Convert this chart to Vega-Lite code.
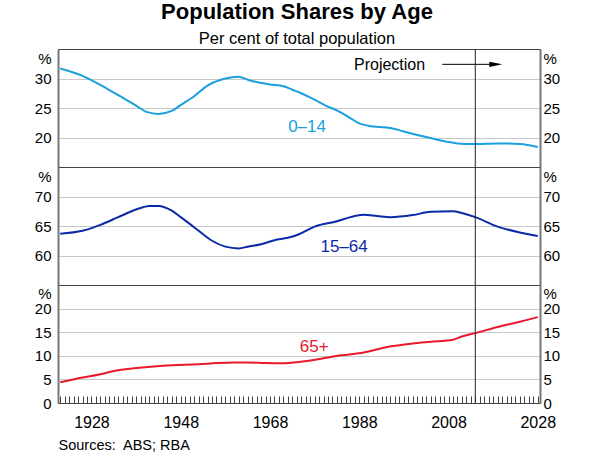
{
  "$schema": "https://vega.github.io/schema/vega-lite/v6.json",
  "padding": {"left": 33, "top": 0, "right": 5, "bottom": 5},
  "title": {
    "text": "Population Shares by Age",
    "subtitle": "Per cent of total population",
    "anchor": "middle",
    "font": "Liberation Sans",
    "fontSize": 22,
    "fontWeight": "bold",
    "color": "#000",
    "subtitleFont": "Liberation Sans",
    "subtitleFontSize": 16.5,
    "subtitleColor": "#000",
    "subtitlePadding": 7,
    "offset": 0
  },
  "config": {
    "view": {"stroke": "#444", "strokeWidth": 1},
    "axis": {"labelFont": "Liberation Sans", "labelColor": "#000", "titleFont": "Liberation Sans", "titleColor": "#000", "labelOverlap": false},
    "text": {"font": "Liberation Sans"}
  },
  "spacing": 0,
  "bounds": "flush",
  "datasets": {
    "pop": [
      {"series": "0–14", "year": 1921, "value": 31.7},
      {"series": "0–14", "year": 1926, "value": 30.45},
      {"series": "0–14", "year": 1930, "value": 28.9},
      {"series": "0–14", "year": 1933, "value": 27.6},
      {"series": "0–14", "year": 1936, "value": 26.3},
      {"series": "0–14", "year": 1938, "value": 25.4},
      {"series": "0–14", "year": 1940.5, "value": 24.3},
      {"series": "0–14", "year": 1943, "value": 24.0},
      {"series": "0–14", "year": 1946, "value": 24.5},
      {"series": "0–14", "year": 1948, "value": 25.5},
      {"series": "0–14", "year": 1951, "value": 27.0},
      {"series": "0–14", "year": 1954, "value": 28.8},
      {"series": "0–14", "year": 1958, "value": 30.0},
      {"series": "0–14", "year": 1961, "value": 30.3},
      {"series": "0–14", "year": 1963, "value": 29.8},
      {"series": "0–14", "year": 1965, "value": 29.4},
      {"series": "0–14", "year": 1968, "value": 29.0},
      {"series": "0–14", "year": 1971, "value": 28.7},
      {"series": "0–14", "year": 1973, "value": 28.1},
      {"series": "0–14", "year": 1975, "value": 27.5},
      {"series": "0–14", "year": 1977.5, "value": 26.6},
      {"series": "0–14", "year": 1980.5, "value": 25.4},
      {"series": "0–14", "year": 1983.5, "value": 24.4},
      {"series": "0–14", "year": 1986, "value": 23.3},
      {"series": "0–14", "year": 1988, "value": 22.4},
      {"series": "0–14", "year": 1990, "value": 22.0},
      {"series": "0–14", "year": 1995, "value": 21.6},
      {"series": "0–14", "year": 1999, "value": 20.8},
      {"series": "0–14", "year": 2004, "value": 19.9},
      {"series": "0–14", "year": 2007.5, "value": 19.3},
      {"series": "0–14", "year": 2011.5, "value": 18.9},
      {"series": "0–14", "year": 2014, "value": 18.9},
      {"series": "0–14", "year": 2019, "value": 19.0},
      {"series": "0–14", "year": 2024, "value": 18.9},
      {"series": "0–14", "year": 2028, "value": 18.4},
      {"series": "15–64", "year": 1921, "value": 63.7},
      {"series": "15–64", "year": 1926, "value": 64.2},
      {"series": "15–64", "year": 1930, "value": 65.2},
      {"series": "15–64", "year": 1934, "value": 66.5},
      {"series": "15–64", "year": 1938, "value": 67.8},
      {"series": "15–64", "year": 1941, "value": 68.4},
      {"series": "15–64", "year": 1943, "value": 68.4},
      {"series": "15–64", "year": 1946, "value": 67.6},
      {"series": "15–64", "year": 1948, "value": 66.5},
      {"series": "15–64", "year": 1951, "value": 64.8},
      {"series": "15–64", "year": 1955, "value": 62.5},
      {"series": "15–64", "year": 1958, "value": 61.5},
      {"series": "15–64", "year": 1961, "value": 61.2},
      {"series": "15–64", "year": 1963, "value": 61.5},
      {"series": "15–64", "year": 1966, "value": 61.9},
      {"series": "15–64", "year": 1969, "value": 62.6},
      {"series": "15–64", "year": 1972, "value": 63.0},
      {"series": "15–64", "year": 1974.5, "value": 63.6},
      {"series": "15–64", "year": 1978, "value": 64.9},
      {"series": "15–64", "year": 1983, "value": 65.8},
      {"series": "15–64", "year": 1986, "value": 66.5},
      {"series": "15–64", "year": 1989, "value": 66.9},
      {"series": "15–64", "year": 1992, "value": 66.7},
      {"series": "15–64", "year": 1995, "value": 66.5},
      {"series": "15–64", "year": 2000, "value": 66.85},
      {"series": "15–64", "year": 2004, "value": 67.4},
      {"series": "15–64", "year": 2009, "value": 67.5},
      {"series": "15–64", "year": 2011, "value": 67.2},
      {"series": "15–64", "year": 2014, "value": 66.5},
      {"series": "15–64", "year": 2019, "value": 64.9},
      {"series": "15–64", "year": 2024, "value": 63.9},
      {"series": "15–64", "year": 2028, "value": 63.3},
      {"series": "65+", "year": 1921, "value": 4.4},
      {"series": "65+", "year": 1926, "value": 5.4},
      {"series": "65+", "year": 1930, "value": 6.1},
      {"series": "65+", "year": 1933, "value": 6.8},
      {"series": "65+", "year": 1937, "value": 7.3},
      {"series": "65+", "year": 1942, "value": 7.75},
      {"series": "65+", "year": 1946, "value": 8.0},
      {"series": "65+", "year": 1952, "value": 8.2},
      {"series": "65+", "year": 1956, "value": 8.45},
      {"series": "65+", "year": 1960, "value": 8.6},
      {"series": "65+", "year": 1963, "value": 8.6},
      {"series": "65+", "year": 1967, "value": 8.45},
      {"series": "65+", "year": 1971, "value": 8.4},
      {"series": "65+", "year": 1974.5, "value": 8.7},
      {"series": "65+", "year": 1979, "value": 9.3},
      {"series": "65+", "year": 1984, "value": 10.1},
      {"series": "65+", "year": 1989, "value": 10.7},
      {"series": "65+", "year": 1994, "value": 11.8},
      {"series": "65+", "year": 2000, "value": 12.6},
      {"series": "65+", "year": 2004, "value": 12.96},
      {"series": "65+", "year": 2009, "value": 13.4},
      {"series": "65+", "year": 2011, "value": 14.1},
      {"series": "65+", "year": 2014, "value": 14.8},
      {"series": "65+", "year": 2019, "value": 16.1},
      {"series": "65+", "year": 2024, "value": 17.2},
      {"series": "65+", "year": 2028, "value": 18.2}
    ]
  },
  "vconcat": [
    {
      "width": 482,
      "height": 118,
      "layer": [
        {
          "data": {"name": "pop"},
          "transform": [{"filter": "datum.series == '0–14'"}],
          "mark": {"type": "line", "color": "#1a9fe0", "strokeWidth": 2, "interpolate": "monotone"},
          "encoding": {
            "x": {"field": "year", "type": "quantitative", "scale": {"domain": [1920.5, 2028.5], "nice": false, "zero": false}, "axis": null},
            "y": {"field": "value", "type": "quantitative", "scale": {"domain": [15, 35], "nice": false, "zero": false},
              "axis": {"orient": "left", "title": null, "values": [20, 25, 30, 35], "ticks": false, "domainColor": "#777", "domainWidth": 2,
                "grid": true, "gridColor": "#c8c8c8", "gridOpacity": {"condition": {"test": "datum.value == 35", "value": 0}, "value": 1},
                "labelExpr": "datum.value == 35 ? '%' : datum.label", "labelFontSize": 15, "labelPadding": 7,
                "labelOffset": {"condition": {"test": "datum.value == 35", "value": 9}, "value": 0}}}
          }
        },
        {
          "data": {"values": [{}]},
          "mark": {"type": "text", "color": "#1a9fe0", "fontSize": 17, "align": "center", "baseline": "middle"},
          "encoding": {
            "x": {"datum": 1976.3, "type": "quantitative", "axis": null},
            "y": {"datum": 21.7, "type": "quantitative",
              "axis": {"orient": "right", "title": null, "values": [20, 25, 30, 35], "ticks": false, "domainColor": "#777", "domainWidth": 2, "grid": false,
                "labelExpr": "datum.value == 35 ? '%' : datum.label", "labelFontSize": 15, "labelPadding": 3,
                "labelOffset": {"condition": {"test": "datum.value == 35", "value": 9}, "value": 0}}},
            "text": {"value": "0–14"}
          }
        },
        {
          "data": {"values": [{}]},
          "mark": {"type": "text", "color": "#000", "fontSize": 16, "align": "center", "baseline": "middle"},
          "encoding": {
            "x": {"datum": 1994.8, "type": "quantitative", "axis": null},
            "y": {"datum": 32.3, "type": "quantitative", "axis": null},
            "text": {"value": "Projection"}
          }
        },
        {
          "data": {"values": [{}]},
          "mark": {"type": "rule", "color": "#000", "strokeWidth": 1},
          "encoding": {
            "x": {"datum": 2006.6, "type": "quantitative", "axis": null},
            "x2": {"datum": 2018.8},
            "y": {"datum": 32.4, "type": "quantitative", "axis": null}
          }
        },
        {
          "data": {"values": [{}]},
          "mark": {"type": "point", "shape": "M-1,-0.4L1,0L-1,0.4Z", "filled": true, "color": "#000", "size": 169, "opacity": 1},
          "encoding": {
            "x": {"datum": 2018.6, "type": "quantitative", "axis": null},
            "y": {"datum": 32.4, "type": "quantitative", "axis": null}
          }
        },
        {
          "data": {"values": [{}]},
          "mark": {"type": "rule", "color": "#222", "strokeWidth": 1},
          "encoding": {
            "x": {"datum": 2014, "type": "quantitative", "axis": null}
          }
        }
      ],
      "resolve": {"axis": {"y": "independent"}}
    },
    {
      "width": 482,
      "height": 118,
      "layer": [
        {
          "data": {"name": "pop"},
          "transform": [{"filter": "datum.series == '15–64'"}],
          "mark": {"type": "line", "color": "#0a2aa8", "strokeWidth": 2, "interpolate": "monotone"},
          "encoding": {
            "x": {"field": "year", "type": "quantitative", "scale": {"domain": [1920.5, 2028.5], "nice": false, "zero": false}, "axis": null},
            "y": {"field": "value", "type": "quantitative", "scale": {"domain": [55, 75], "nice": false, "zero": false},
              "axis": {"orient": "left", "title": null, "values": [60, 65, 70, 75], "ticks": false, "domainColor": "#777", "domainWidth": 2,
                "grid": true, "gridColor": "#c8c8c8", "gridOpacity": {"condition": {"test": "datum.value == 75", "value": 0}, "value": 1},
                "labelExpr": "datum.value == 75 ? '%' : datum.label", "labelFontSize": 15, "labelPadding": 7,
                "labelOffset": {"condition": {"test": "datum.value == 75", "value": 9}, "value": 0}}}
          }
        },
        {
          "data": {"values": [{}]},
          "mark": {"type": "text", "color": "#0a2aa8", "fontSize": 17, "align": "center", "baseline": "middle"},
          "encoding": {
            "x": {"datum": 1984.6, "type": "quantitative", "axis": null},
            "y": {"datum": 61.5, "type": "quantitative",
              "axis": {"orient": "right", "title": null, "values": [60, 65, 70, 75], "ticks": false, "domainColor": "#777", "domainWidth": 2, "grid": false,
                "labelExpr": "datum.value == 75 ? '%' : datum.label", "labelFontSize": 15, "labelPadding": 3,
                "labelOffset": {"condition": {"test": "datum.value == 75", "value": 9}, "value": 0}}},
            "text": {"value": "15–64"}
          }
        },
        {
          "data": {"values": [{}]},
          "mark": {"type": "rule", "color": "#222", "strokeWidth": 1},
          "encoding": {
            "x": {"datum": 2014, "type": "quantitative", "axis": null}
          }
        }
      ],
      "resolve": {"axis": {"y": "independent"}}
    },
    {
      "width": 482,
      "height": 118,
      "layer": [
        {
          "data": {"name": "pop"},
          "transform": [{"filter": "datum.series == '65+'"}],
          "mark": {"type": "line", "color": "#e8192c", "strokeWidth": 2, "interpolate": "monotone"},
          "encoding": {
            "x": {"field": "year", "type": "quantitative", "scale": {"domain": [1920.5, 2028.5], "nice": false, "zero": false},
              "axis": {"orient": "bottom", "tickCount": 108, "ticks": true, "tickSize": -7, "tickColor": "#444", "tickWidth": 1,
                "domain": false, "grid": false, "format": "d",
                "labelExpr": "datum.value % 20 == 8 ? datum.label : ''", "labelFlush": false, "labelOverlap": false, "labelBound": false,
                "labelFontSize": 16, "labelPadding": 18,
                "title": "Sources:\u00a0 ABS; RBA", "titleAnchor": "start", "titleAlign": "left", "titleFontSize": 14.5, "titleFontWeight": "normal", "titlePadding": 8}},
            "y": {"field": "value", "type": "quantitative", "scale": {"domain": [0, 25], "nice": false, "zero": false},
              "axis": {"orient": "left", "title": null, "values": [0, 5, 10, 15, 20, 25], "ticks": false, "domainColor": "#777", "domainWidth": 2,
                "grid": true, "gridColor": "#c8c8c8", "gridOpacity": {"condition": {"test": "datum.value == 25 || datum.value == 0", "value": 0}, "value": 1},
                "labelExpr": "datum.value == 25 ? '%' : datum.label", "labelFontSize": 15, "labelPadding": 7,
                "labelOffset": {"condition": {"test": "datum.value == 25", "value": 8}, "value": 0}}}
          }
        },
        {
          "data": {"values": [{}]},
          "mark": {"type": "text", "color": "#e8192c", "fontSize": 17, "align": "center", "baseline": "middle"},
          "encoding": {
            "x": {"datum": 1977.9, "type": "quantitative"},
            "y": {"datum": 11.9, "type": "quantitative",
              "axis": {"orient": "right", "title": null, "values": [0, 5, 10, 15, 20, 25], "ticks": false, "domainColor": "#777", "domainWidth": 2, "grid": false,
                "labelExpr": "datum.value == 25 ? '%' : datum.label", "labelFontSize": 15, "labelPadding": 3,
                "labelOffset": {"condition": {"test": "datum.value == 25", "value": 8}, "value": 0}}},
            "text": {"value": "65+"}
          }
        },
        {
          "data": {"values": [{}]},
          "mark": {"type": "rule", "color": "#222", "strokeWidth": 1},
          "encoding": {
            "x": {"datum": 2014, "type": "quantitative"}
          }
        }
      ],
      "resolve": {"axis": {"y": "independent"}}
    }
  ]
}
